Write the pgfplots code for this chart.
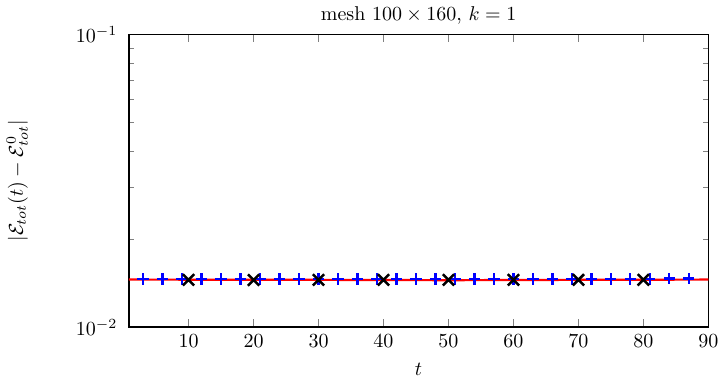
\documentclass[border=0pt]{standalone}
\usepackage{pgfplots}
\pgfplotsset{compat=1.18}
\begin{document}
\begin{tikzpicture}
\begin{axis}[
  scale only axis,
  width=290pt, height=146.5pt,
  xmode=normal, ymode=log,
  xmin=0.8, xmax=90, ymin=1e-2, ymax=1e-1,
  xtick={10,20,30,40,50,60,70,80,90},
  ytick={1e-2,1e-1},
  tick align=inside,
  axis line style={line width=0.8pt},
  major tick length=4pt, minor tick length=2.5pt,
  title={mesh $100\times 160$, $k=1$},
  xlabel={$t$},
  ylabel={$|\mathcal{E}_{tot}(t)-\mathcal{E}^0_{tot}|$},
  title style={yshift=-4.5pt},
  yticklabel style={inner xsep=5.5pt},
  ylabel shift=15pt,
  xlabel shift=1pt,
]
\addplot[red, line width=1.1pt, no marks] coordinates {(0.8,0.01455) (30,0.01452) (50,0.01448) (70,0.01452) (90,0.01455)};
\addplot[blue, only marks, mark=+, mark size=2.8pt, line width=1.1pt] coordinates {
(3,0.01462) (6,0.01462) (9,0.01462) (12,0.01462) (15,0.01462) (18,0.01462) (21,0.01462) (24,0.01462) (27,0.01462) (30,0.01462)
(33,0.01462) (36,0.01462) (39,0.01462) (42,0.01462) (45,0.01462) (48,0.01462) (51,0.01462) (54,0.01462) (57,0.01462) (60,0.01462)
(63,0.01462) (66,0.01462) (69,0.01462) (72,0.01462) (75,0.01462) (78,0.01462) (81,0.01462) (84,0.01468) (87,0.01468)};
\addplot[black, only marks, mark=x, mark size=4pt, line width=1.25pt] coordinates {
(10,0.01452) (20,0.01450) (30,0.01452) (40,0.01452) (50,0.01452) (60,0.01452) (70,0.01452) (80,0.01452)};
\end{axis}
\end{tikzpicture}
\end{document}
